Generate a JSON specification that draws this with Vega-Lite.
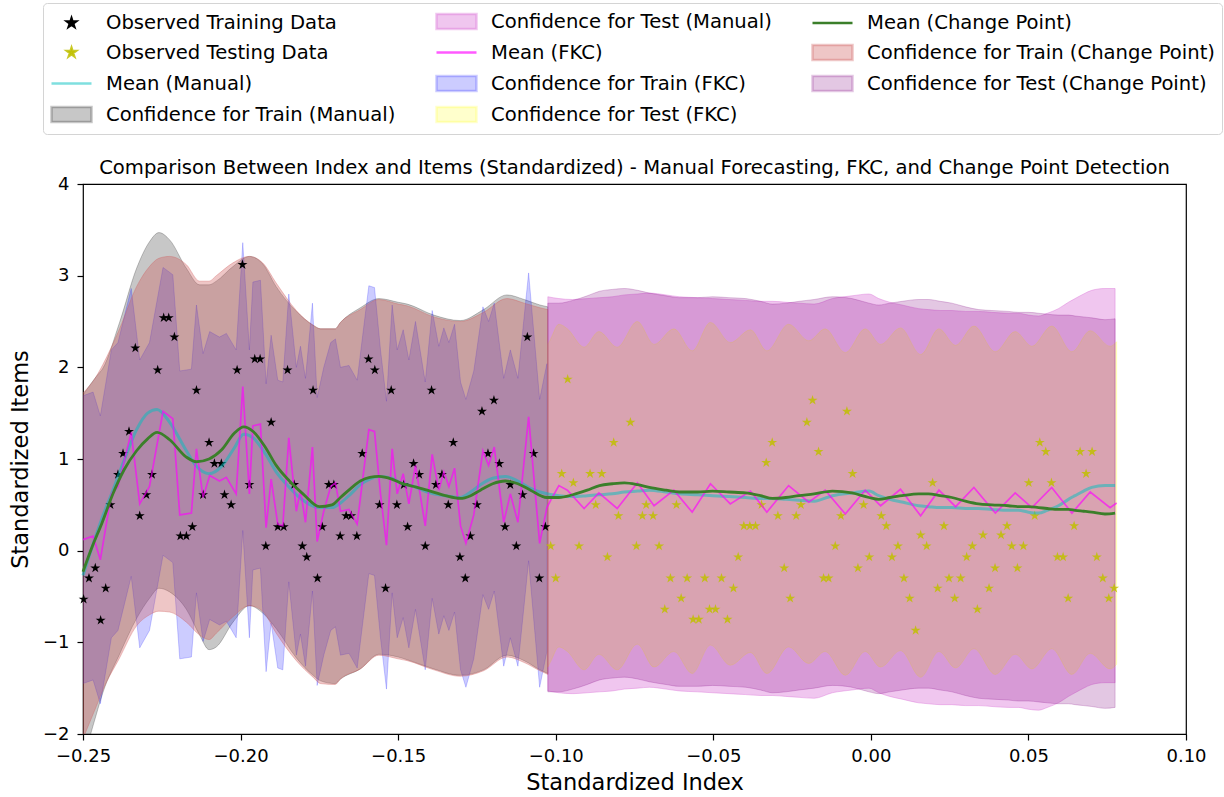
{
"$schema":"https://vega.github.io/schema/vega-lite/v6.json",
"autosize":{"type":"none"},
"padding":{"left":83,"top":184,"right":38,"bottom":63},
"width":1103,"height":550,
"background":"white",
"config":{
 "font":"DejaVu Sans",
 "view":{"stroke":"#000000","strokeWidth":1.2},
 "axis":{"grid":false,"domain":false,"labelFlush":false,"labelOverlap":false,"tickColor":"#000000","tickSize":6,"tickWidth":1.2,"labelColor":"#000000","labelFont":"DejaVu Sans","labelFontSize":18,"titleFont":"DejaVu Sans","titleFontSize":22.5,"titleFontWeight":"normal","titleColor":"#000000"}
},
"title":{"text":"Comparison Between Index and Items (Standardized) - Manual Forecasting, FKC, and Change Point Detection","font":"DejaVu Sans","fontSize":19.6,"fontWeight":"normal","color":"#000000","offset":10,"dy":186,"frame":"group","anchor":"middle"},
"datasets":{
"train":[{"x":-0.2498,"y":-0.53},{"x":-0.2481,"y":-0.30},{"x":-0.2461,"y":-0.19},{"x":-0.2444,"y":-0.76},{"x":-0.2428,"y":-0.41},{"x":-0.2413,"y":0.50},{"x":-0.2389,"y":0.83},{"x":-0.2373,"y":1.06},{"x":-0.2354,"y":1.30},{"x":-0.2334,"y":2.21},{"x":-0.2320,"y":0.38},{"x":-0.2299,"y":0.61},{"x":-0.2281,"y":0.83},{"x":-0.2263,"y":1.97},{"x":-0.2244,"y":2.54},{"x":-0.2228,"y":2.54},{"x":-0.2210,"y":2.33},{"x":-0.2191,"y":0.16},{"x":-0.2172,"y":0.16},{"x":-0.2153,"y":0.26},{"x":-0.2140,"y":1.75},{"x":-0.2119,"y":0.61},{"x":-0.2100,"y":1.18},{"x":-0.2083,"y":0.95},{"x":-0.2061,"y":0.95},{"x":-0.2051,"y":0.61},{"x":-0.2030,"y":0.50},{"x":-0.2011,"y":1.97},{"x":-0.1994,"y":3.12},{"x":-0.1972,"y":0.72},{"x":-0.1955,"y":2.09},{"x":-0.1938,"y":2.09},{"x":-0.1920,"y":0.05},{"x":-0.1903,"y":1.40},{"x":-0.1882,"y":0.26},{"x":-0.1863,"y":0.26},{"x":-0.1851,"y":1.97},{"x":-0.1830,"y":0.72},{"x":-0.1804,"y":0.05},{"x":-0.1790,"y":-0.07},{"x":-0.1770,"y":1.75},{"x":-0.1756,"y":-0.30},{"x":-0.1741,"y":0.26},{"x":-0.1720,"y":0.72},{"x":-0.1704,"y":0.72},{"x":-0.1684,"y":0.16},{"x":-0.1665,"y":0.38},{"x":-0.1649,"y":0.38},{"x":-0.1631,"y":0.16},{"x":-0.1614,"y":1.06},{"x":-0.1594,"y":2.09},{"x":-0.1574,"y":1.97},{"x":-0.1559,"y":0.50},{"x":-0.1540,"y":-0.41},{"x":-0.1522,"y":1.75},{"x":-0.1504,"y":0.50},{"x":-0.1482,"y":0.72},{"x":-0.1470,"y":0.26},{"x":-0.1451,"y":0.95},{"x":-0.1433,"y":0.83},{"x":-0.1414,"y":0.05},{"x":-0.1394,"y":1.75},{"x":-0.1380,"y":0.72},{"x":-0.1361,"y":0.83},{"x":-0.1341,"y":0.50},{"x":-0.1325,"y":1.18},{"x":-0.1304,"y":-0.07},{"x":-0.1287,"y":-0.30},{"x":-0.1271,"y":0.16},{"x":-0.1250,"y":0.50},{"x":-0.1234,"y":1.52},{"x":-0.1215,"y":1.06},{"x":-0.1196,"y":1.64},{"x":-0.1179,"y":0.95},{"x":-0.1161,"y":0.26},{"x":-0.1144,"y":0.72},{"x":-0.1125,"y":0.05},{"x":-0.1105,"y":0.61},{"x":-0.1090,"y":2.33},{"x":-0.1070,"y":1.06},{"x":-0.1052,"y":-0.30},{"x":-0.1033,"y":0.26}],
"test":[{"x":-0.1016,"y":0.05},{"x":-0.1000,"y":-0.30},{"x":-0.0981,"y":0.84},{"x":-0.0962,"y":1.87},{"x":-0.0944,"y":0.74},{"x":-0.0926,"y":0.05},{"x":-0.0891,"y":0.84},{"x":-0.0873,"y":0.50},{"x":-0.0854,"y":0.84},{"x":-0.0836,"y":-0.07},{"x":-0.0816,"y":1.18},{"x":-0.0801,"y":0.38},{"x":-0.0763,"y":1.40},{"x":-0.0744,"y":0.05},{"x":-0.0725,"y":0.38},{"x":-0.0713,"y":0.50},{"x":-0.0691,"y":0.38},{"x":-0.0672,"y":0.05},{"x":-0.0654,"y":-0.64},{"x":-0.0636,"y":-0.30},{"x":-0.0617,"y":0.50},{"x":-0.0602,"y":-0.52},{"x":-0.0583,"y":-0.30},{"x":-0.0564,"y":-0.75},{"x":-0.0546,"y":-0.75},{"x":-0.0527,"y":-0.30},{"x":-0.0512,"y":-0.64},{"x":-0.0493,"y":-0.64},{"x":-0.0474,"y":-0.30},{"x":-0.0455,"y":-0.75},{"x":-0.0436,"y":-0.41},{"x":-0.0421,"y":-0.07},{"x":-0.0403,"y":0.27},{"x":-0.0384,"y":0.27},{"x":-0.0366,"y":0.27},{"x":-0.0347,"y":0.50},{"x":-0.0332,"y":0.96},{"x":-0.0313,"y":1.18},{"x":-0.0295,"y":0.38},{"x":-0.0275,"y":-0.19},{"x":-0.0256,"y":-0.52},{"x":-0.0237,"y":0.38},{"x":-0.0222,"y":0.50},{"x":-0.0203,"y":1.40},{"x":-0.0185,"y":1.64},{"x":-0.0166,"y":1.08},{"x":-0.0150,"y":-0.30},{"x":-0.0134,"y":-0.30},{"x":-0.0113,"y":0.05},{"x":-0.0095,"y":0.38},{"x":-0.0076,"y":1.52},{"x":-0.0058,"y":0.84},{"x":-0.0041,"y":-0.19},{"x":-0.0023,"y":0.50},{"x":-0.0005,"y":-0.07},{"x":0.0033,"y":0.38},{"x":0.0049,"y":0.27},{"x":0.0067,"y":-0.07},{"x":0.0086,"y":0.05},{"x":0.0105,"y":-0.30},{"x":0.0123,"y":-0.52},{"x":0.0142,"y":-0.87},{"x":0.0158,"y":0.17},{"x":0.0177,"y":0.05},{"x":0.0196,"y":0.74},{"x":0.0212,"y":-0.41},{"x":0.0232,"y":0.27},{"x":0.0248,"y":-0.30},{"x":0.0266,"y":-0.52},{"x":0.0285,"y":-0.30},{"x":0.0304,"y":-0.07},{"x":0.0322,"y":0.05},{"x":0.0338,"y":-0.64},{"x":0.0356,"y":0.17},{"x":0.0375,"y":-0.41},{"x":0.0394,"y":-0.19},{"x":0.0413,"y":0.17},{"x":0.0432,"y":0.27},{"x":0.0447,"y":0.05},{"x":0.0465,"y":-0.19},{"x":0.0484,"y":0.05},{"x":0.0501,"y":0.74},{"x":0.0520,"y":0.38},{"x":0.0536,"y":1.18},{"x":0.0555,"y":1.08},{"x":0.0573,"y":0.74},{"x":0.0592,"y":-0.07},{"x":0.0610,"y":-0.07},{"x":0.0626,"y":-0.52},{"x":0.0645,"y":0.27},{"x":0.0664,"y":1.08},{"x":0.0683,"y":0.84},{"x":0.0702,"y":1.08},{"x":0.0717,"y":-0.07},{"x":0.0736,"y":-0.30},{"x":0.0755,"y":-0.52},{"x":0.0772,"y":-0.41}],
"smooth":[{"x":-0.25,"a":-0.27,"c":-0.23},{"x":-0.247,"a":0.05,"c":0.05},{"x":-0.244,"a":0.35,"c":0.30},{"x":-0.2405,"a":0.66,"c":0.62},{"x":-0.237,"a":0.98,"c":0.88},{"x":-0.233,"a":1.32,"c":1.09},{"x":-0.2295,"a":1.50,"c":1.22},{"x":-0.2265,"a":1.54,"c":1.29},{"x":-0.2225,"a":1.40,"c":1.21},{"x":-0.2172,"a":1.09,"c":1.02},{"x":-0.214,"a":0.92,"c":0.97},{"x":-0.21,"a":0.84,"c":1.00},{"x":-0.206,"a":0.92,"c":1.10},{"x":-0.202,"a":1.12,"c":1.28},{"x":-0.199,"a":1.27,"c":1.35},{"x":-0.196,"a":1.23,"c":1.30},{"x":-0.192,"a":1.05,"c":1.12},{"x":-0.1887,"a":0.86,"c":0.93},{"x":-0.1845,"a":0.69,"c":0.76},{"x":-0.1802,"a":0.55,"c":0.62},{"x":-0.175,"a":0.47,"c":0.48},{"x":-0.171,"a":0.47,"c":0.50},{"x":-0.1683,"a":0.52,"c":0.58},{"x":-0.165,"a":0.62,"c":0.68},{"x":-0.162,"a":0.72,"c":0.76},{"x":-0.159,"a":0.78,"c":0.80},{"x":-0.1561,"a":0.81,"c":0.81},{"x":-0.152,"a":0.79,"c":0.78},{"x":-0.1493,"a":0.74,"c":0.74},{"x":-0.145,"a":0.70,"c":0.70},{"x":-0.1408,"a":0.64,"c":0.66},{"x":-0.135,"a":0.60,"c":0.60},{"x":-0.1303,"a":0.58,"c":0.57},{"x":-0.127,"a":0.64,"c":0.60},{"x":-0.1239,"a":0.72,"c":0.66},{"x":-0.12,"a":0.79,"c":0.73},{"x":-0.116,"a":0.81,"c":0.76},{"x":-0.112,"a":0.76,"c":0.73},{"x":-0.108,"a":0.68,"c":0.66},{"x":-0.1028,"a":0.62,"c":0.58},{"x":-0.099,"a":0.60,"c":0.58},{"x":-0.0946,"a":0.59,"c":0.61},{"x":-0.09,"a":0.60,"c":0.66},{"x":-0.0861,"a":0.61,"c":0.71},{"x":-0.082,"a":0.62,"c":0.73},{"x":-0.0782,"a":0.64,"c":0.74},{"x":-0.074,"a":0.65,"c":0.72},{"x":-0.0703,"a":0.66,"c":0.69},{"x":-0.065,"a":0.64,"c":0.66},{"x":-0.0608,"a":0.62,"c":0.64},{"x":-0.055,"a":0.61,"c":0.64},{"x":-0.0502,"a":0.60,"c":0.65},{"x":-0.045,"a":0.59,"c":0.64},{"x":-0.0397,"a":0.58,"c":0.63},{"x":-0.035,"a":0.57,"c":0.60},{"x":-0.0312,"a":0.57,"c":0.57},{"x":-0.027,"a":0.56,"c":0.58},{"x":-0.0228,"a":0.55,"c":0.60},{"x":-0.018,"a":0.54,"c":0.62},{"x":-0.0122,"a":0.60,"c":0.65},{"x":-0.006,"a":0.63,"c":0.63},{"x":-0.0006,"a":0.65,"c":0.58},{"x":0.0025,"a":0.60,"c":0.56},{"x":0.006,"a":0.56,"c":0.58},{"x":0.0099,"a":0.53,"c":0.60},{"x":0.0152,"a":0.49,"c":0.62},{"x":0.0183,"a":0.48,"c":0.62},{"x":0.022,"a":0.47,"c":0.60},{"x":0.0257,"a":0.47,"c":0.58},{"x":0.03,"a":0.46,"c":0.54},{"x":0.0342,"a":0.46,"c":0.51},{"x":0.0384,"a":0.45,"c":0.50},{"x":0.0437,"a":0.44,"c":0.49},{"x":0.0468,"a":0.44,"c":0.48},{"x":0.05,"a":0.42,"c":0.48},{"x":0.0532,"a":0.41,"c":0.47},{"x":0.056,"a":0.44,"c":0.46},{"x":0.0595,"a":0.49,"c":0.45},{"x":0.0627,"a":0.56,"c":0.45},{"x":0.0648,"a":0.60,"c":0.44},{"x":0.0675,"a":0.65,"c":0.43},{"x":0.0701,"a":0.69,"c":0.42},{"x":0.0743,"a":0.71,"c":0.40},{"x":0.0775,"a":0.71,"c":0.41}],
"trb":[{"x":-0.25,"glo":-2.30,"ghi":1.70,"rlo":-2.05,"rhi":1.72},{"x":-0.2458,"glo":-1.79,"ghi":1.90,"rlo":-1.70,"rhi":1.90},{"x":-0.2437,"glo":-1.55,"ghi":1.99,"rlo":-1.52,"rhi":2.03},{"x":-0.2384,"glo":-1.13,"ghi":2.49,"rlo":-1.17,"rhi":2.42},{"x":-0.233,"glo":-0.74,"ghi":3.08,"rlo":-0.82,"rhi":2.88},{"x":-0.2289,"glo":-0.52,"ghi":3.37,"rlo":-0.70,"rhi":3.10},{"x":-0.2259,"glo":-0.41,"ghi":3.47,"rlo":-0.66,"rhi":3.19},{"x":-0.2225,"glo":-0.45,"ghi":3.39,"rlo":-0.67,"rhi":3.21},{"x":-0.2172,"glo":-0.64,"ghi":3.08,"rlo":-0.78,"rhi":3.12},{"x":-0.213,"glo":-0.92,"ghi":2.90,"rlo":-0.92,"rhi":2.94},{"x":-0.21,"glo":-1.08,"ghi":2.90,"rlo":-0.97,"rhi":2.94},{"x":-0.2077,"glo":-1.05,"ghi":2.94,"rlo":-0.90,"rhi":3.00},{"x":-0.2024,"glo":-0.78,"ghi":3.10,"rlo":-0.72,"rhi":3.14},{"x":-0.1972,"glo":-0.60,"ghi":3.21,"rlo":-0.60,"rhi":3.21},{"x":-0.193,"glo":-0.68,"ghi":3.13,"rlo":-0.66,"rhi":3.14},{"x":-0.1887,"glo":-0.85,"ghi":2.88,"rlo":-0.90,"rhi":2.92},{"x":-0.1823,"glo":-1.17,"ghi":2.61,"rlo":-1.20,"rhi":2.62},{"x":-0.177,"glo":-1.36,"ghi":2.46,"rlo":-1.38,"rhi":2.46},{"x":-0.1746,"glo":-1.42,"ghi":2.42,"rlo":-1.45,"rhi":2.42},{"x":-0.17,"glo":-1.45,"ghi":2.42,"rlo":-1.46,"rhi":2.42},{"x":-0.1683,"glo":-1.40,"ghi":2.49,"rlo":-1.40,"rhi":2.49},{"x":-0.162,"glo":-1.29,"ghi":2.65,"rlo":-1.29,"rhi":2.63},{"x":-0.1561,"glo":-1.13,"ghi":2.75,"rlo":-1.14,"rhi":2.74},{"x":-0.15,"glo":-1.16,"ghi":2.71,"rlo":-1.18,"rhi":2.69},{"x":-0.1471,"glo":-1.19,"ghi":2.69,"rlo":-1.20,"rhi":2.67},{"x":-0.1387,"glo":-1.29,"ghi":2.57,"rlo":-1.30,"rhi":2.55},{"x":-0.1303,"glo":-1.36,"ghi":2.51,"rlo":-1.37,"rhi":2.50},{"x":-0.1229,"glo":-1.30,"ghi":2.63,"rlo":-1.31,"rhi":2.60},{"x":-0.1155,"glo":-1.14,"ghi":2.79,"rlo":-1.16,"rhi":2.75},{"x":-0.11,"glo":-1.20,"ghi":2.74,"rlo":-1.22,"rhi":2.70},{"x":-0.105,"glo":-1.30,"ghi":2.68,"rlo":-1.31,"rhi":2.65},{"x":-0.1025,"glo":-1.34,"ghi":2.66,"rlo":-1.35,"rhi":2.63}],
"teb":[{"x":-0.1025,"vlo":-1.53,"vhi":2.77,"plo":-1.54,"phi":2.70},{"x":-0.099,"vlo":-1.55,"vhi":2.75,"plo":-1.54,"phi":2.70},{"x":-0.0946,"vlo":-1.56,"vhi":2.74,"plo":-1.51,"phi":2.73},{"x":-0.09,"vlo":-1.55,"vhi":2.75,"plo":-1.46,"phi":2.78},{"x":-0.0861,"vlo":-1.54,"vhi":2.76,"plo":-1.41,"phi":2.83},{"x":-0.082,"vlo":-1.53,"vhi":2.77,"plo":-1.39,"phi":2.85},{"x":-0.0782,"vlo":-1.51,"vhi":2.79,"plo":-1.38,"phi":2.86},{"x":-0.074,"vlo":-1.50,"vhi":2.80,"plo":-1.40,"phi":2.84},{"x":-0.0703,"vlo":-1.49,"vhi":2.81,"plo":-1.43,"phi":2.81},{"x":-0.065,"vlo":-1.51,"vhi":2.79,"plo":-1.46,"phi":2.78},{"x":-0.0608,"vlo":-1.53,"vhi":2.77,"plo":-1.48,"phi":2.76},{"x":-0.055,"vlo":-1.54,"vhi":2.76,"plo":-1.48,"phi":2.76},{"x":-0.0502,"vlo":-1.55,"vhi":2.75,"plo":-1.47,"phi":2.77},{"x":-0.045,"vlo":-1.56,"vhi":2.74,"plo":-1.48,"phi":2.76},{"x":-0.0397,"vlo":-1.57,"vhi":2.73,"plo":-1.49,"phi":2.75},{"x":-0.035,"vlo":-1.58,"vhi":2.72,"plo":-1.52,"phi":2.72},{"x":-0.0312,"vlo":-1.58,"vhi":2.72,"plo":-1.55,"phi":2.69},{"x":-0.027,"vlo":-1.59,"vhi":2.71,"plo":-1.54,"phi":2.70},{"x":-0.0228,"vlo":-1.60,"vhi":2.70,"plo":-1.52,"phi":2.72},{"x":-0.018,"vlo":-1.61,"vhi":2.69,"plo":-1.50,"phi":2.74},{"x":-0.0122,"vlo":-1.55,"vhi":2.75,"plo":-1.47,"phi":2.77},{"x":-0.006,"vlo":-1.52,"vhi":2.78,"plo":-1.49,"phi":2.75},{"x":-0.0006,"vlo":-1.50,"vhi":2.80,"plo":-1.54,"phi":2.70},{"x":0.0025,"vlo":-1.55,"vhi":2.75,"plo":-1.56,"phi":2.68},{"x":0.006,"vlo":-1.59,"vhi":2.71,"plo":-1.54,"phi":2.70},{"x":0.0099,"vlo":-1.62,"vhi":2.68,"plo":-1.52,"phi":2.72},{"x":0.0152,"vlo":-1.66,"vhi":2.64,"plo":-1.50,"phi":2.74},{"x":0.0183,"vlo":-1.67,"vhi":2.63,"plo":-1.50,"phi":2.74},{"x":0.022,"vlo":-1.68,"vhi":2.62,"plo":-1.52,"phi":2.72},{"x":0.0257,"vlo":-1.68,"vhi":2.62,"plo":-1.54,"phi":2.70},{"x":0.03,"vlo":-1.69,"vhi":2.61,"plo":-1.58,"phi":2.66},{"x":0.0342,"vlo":-1.69,"vhi":2.61,"plo":-1.61,"phi":2.63},{"x":0.0384,"vlo":-1.70,"vhi":2.60,"plo":-1.62,"phi":2.62},{"x":0.0437,"vlo":-1.71,"vhi":2.59,"plo":-1.63,"phi":2.61},{"x":0.0468,"vlo":-1.71,"vhi":2.59,"plo":-1.64,"phi":2.60},{"x":0.05,"vlo":-1.73,"vhi":2.57,"plo":-1.64,"phi":2.60},{"x":0.0532,"vlo":-1.74,"vhi":2.56,"plo":-1.65,"phi":2.59},{"x":0.056,"vlo":-1.71,"vhi":2.59,"plo":-1.66,"phi":2.58},{"x":0.0595,"vlo":-1.66,"vhi":2.64,"plo":-1.67,"phi":2.57},{"x":0.0627,"vlo":-1.59,"vhi":2.71,"plo":-1.67,"phi":2.57},{"x":0.0648,"vlo":-1.55,"vhi":2.75,"plo":-1.68,"phi":2.56},{"x":0.0675,"vlo":-1.50,"vhi":2.80,"plo":-1.69,"phi":2.55},{"x":0.0701,"vlo":-1.46,"vhi":2.84,"plo":-1.70,"phi":2.54},{"x":0.0743,"vlo":-1.44,"vhi":2.86,"plo":-1.72,"phi":2.52},{"x":0.0775,"vlo":-1.44,"vhi":2.86,"plo":-1.71,"phi":2.53}],
"fkc":[{"x":-0.25,"m":0.12,"lo":-1.45,"hi":1.69,"p":"tr"},{"x":-0.2468,"m":0.16,"lo":-1.41,"hi":1.73,"p":"tr"},{"x":-0.2445,"m":-0.10,"lo":-1.67,"hi":1.47,"p":"tr"},{"x":-0.241,"m":0.62,"lo":-0.95,"hi":2.19,"p":"tr"},{"x":-0.2389,"m":0.70,"lo":-0.87,"hi":2.27,"p":"tr"},{"x":-0.2347,"m":1.29,"lo":-0.28,"hi":2.86,"p":"tr"},{"x":-0.232,"m":0.51,"lo":-1.06,"hi":2.08,"p":"tr"},{"x":-0.2289,"m":0.70,"lo":-0.87,"hi":2.27,"p":"tr"},{"x":-0.2246,"m":1.52,"lo":-0.05,"hi":3.09,"p":"tr"},{"x":-0.2215,"m":1.44,"lo":-0.13,"hi":3.01,"p":"tr"},{"x":-0.2193,"m":0.39,"lo":-1.18,"hi":1.96,"p":"tr"},{"x":-0.2156,"m":0.41,"lo":-1.16,"hi":1.98,"p":"tr"},{"x":-0.214,"m":1.11,"lo":-0.46,"hi":2.68,"p":"tr"},{"x":-0.2119,"m":0.58,"lo":-0.99,"hi":2.15,"p":"tr"},{"x":-0.2098,"m":0.82,"lo":-0.75,"hi":2.39,"p":"tr"},{"x":-0.2067,"m":0.76,"lo":-0.81,"hi":2.33,"p":"tr"},{"x":-0.2045,"m":0.80,"lo":-0.77,"hi":2.37,"p":"tr"},{"x":-0.2014,"m":0.62,"lo":-0.95,"hi":2.19,"p":"tr"},{"x":-0.1993,"m":1.79,"lo":0.22,"hi":3.36,"p":"tr"},{"x":-0.1972,"m":0.62,"lo":-0.95,"hi":2.19,"p":"tr"},{"x":-0.1961,"m":1.36,"lo":-0.21,"hi":2.93,"p":"tr"},{"x":-0.1937,"m":1.38,"lo":-0.19,"hi":2.95,"p":"tr"},{"x":-0.1919,"m":0.25,"lo":-1.32,"hi":1.82,"p":"tr"},{"x":-0.1903,"m":0.78,"lo":-0.79,"hi":2.35,"p":"tr"},{"x":-0.1882,"m":0.29,"lo":-1.28,"hi":1.86,"p":"tr"},{"x":-0.1866,"m":0.27,"lo":-1.30,"hi":1.84,"p":"tr"},{"x":-0.1847,"m":1.23,"lo":-0.34,"hi":2.80,"p":"tr"},{"x":-0.1823,"m":0.43,"lo":-1.14,"hi":2.00,"p":"tr"},{"x":-0.181,"m":0.66,"lo":-0.91,"hi":2.23,"p":"tr"},{"x":-0.1794,"m":0.31,"lo":-1.26,"hi":1.88,"p":"tr"},{"x":-0.1772,"m":1.13,"lo":-0.44,"hi":2.70,"p":"tr"},{"x":-0.1757,"m":0.10,"lo":-1.47,"hi":1.67,"p":"tr"},{"x":-0.1736,"m":0.43,"lo":-1.14,"hi":2.00,"p":"tr"},{"x":-0.1714,"m":0.70,"lo":-0.87,"hi":2.27,"p":"tr"},{"x":-0.1699,"m":0.74,"lo":-0.83,"hi":2.31,"p":"tr"},{"x":-0.1683,"m":0.43,"lo":-1.14,"hi":2.00,"p":"tr"},{"x":-0.1656,"m":0.45,"lo":-1.12,"hi":2.02,"p":"tr"},{"x":-0.163,"m":0.29,"lo":-1.28,"hi":1.86,"p":"tr"},{"x":-0.1593,"m":1.32,"lo":-0.25,"hi":2.89,"p":"tr"},{"x":-0.1575,"m":1.30,"lo":-0.27,"hi":2.87,"p":"tr"},{"x":-0.1556,"m":0.62,"lo":-0.95,"hi":2.19,"p":"tr"},{"x":-0.1537,"m":0.06,"lo":-1.51,"hi":1.63,"p":"tr"},{"x":-0.1519,"m":1.11,"lo":-0.46,"hi":2.68,"p":"tr"},{"x":-0.1503,"m":0.62,"lo":-0.95,"hi":2.19,"p":"tr"},{"x":-0.1484,"m":0.84,"lo":-0.73,"hi":2.41,"p":"tr"},{"x":-0.1466,"m":0.51,"lo":-1.06,"hi":2.08,"p":"tr"},{"x":-0.1445,"m":0.93,"lo":-0.64,"hi":2.50,"p":"tr"},{"x":-0.1414,"m":0.27,"lo":-1.30,"hi":1.84,"p":"tr"},{"x":-0.1392,"m":1.05,"lo":-0.52,"hi":2.62,"p":"tr"},{"x":-0.1371,"m":0.66,"lo":-0.91,"hi":2.23,"p":"tr"},{"x":-0.1355,"m":0.86,"lo":-0.71,"hi":2.43,"p":"tr"},{"x":-0.1339,"m":0.70,"lo":-0.87,"hi":2.27,"p":"tr"},{"x":-0.1321,"m":0.90,"lo":-0.67,"hi":2.47,"p":"tr"},{"x":-0.1302,"m":0.27,"lo":-1.30,"hi":1.84,"p":"tr"},{"x":-0.1285,"m":0.08,"lo":-1.49,"hi":1.65,"p":"tr"},{"x":-0.126,"m":0.39,"lo":-1.18,"hi":1.96,"p":"tr"},{"x":-0.1231,"m":1.09,"lo":-0.48,"hi":2.66,"p":"tr"},{"x":-0.1213,"m":0.93,"lo":-0.64,"hi":2.50,"p":"tr"},{"x":-0.1195,"m":1.13,"lo":-0.44,"hi":2.70,"p":"tr"},{"x":-0.1165,"m":0.31,"lo":-1.26,"hi":1.88,"p":"tr"},{"x":-0.1144,"m":0.62,"lo":-0.95,"hi":2.19,"p":"tr"},{"x":-0.112,"m":0.31,"lo":-1.26,"hi":1.88,"p":"tr"},{"x":-0.1086,"m":1.46,"lo":-0.11,"hi":3.03,"p":"tr"},{"x":-0.1051,"m":0.08,"lo":-1.49,"hi":1.65,"p":"tr"},{"x":-0.1028,"m":0.47,"lo":-1.10,"hi":2.04,"p":"tr"},{"x":-0.1025,"m":0.49,"lo":-1.27,"hi":2.25,"p":"te"},{"x":-0.1016,"m":0.55,"lo":-1.21,"hi":2.31,"p":"te"},{"x":-0.099,"m":0.71,"lo":-1.05,"hi":2.47,"p":"te"},{"x":-0.0963,"m":0.66,"lo":-1.10,"hi":2.42,"p":"te"},{"x":-0.091,"m":0.46,"lo":-1.30,"hi":2.22,"p":"te"},{"x":-0.0863,"m":0.63,"lo":-1.13,"hi":2.39,"p":"te"},{"x":-0.0805,"m":0.46,"lo":-1.30,"hi":2.22,"p":"te"},{"x":-0.0741,"m":0.74,"lo":-1.02,"hi":2.50,"p":"te"},{"x":-0.0688,"m":0.49,"lo":-1.27,"hi":2.25,"p":"te"},{"x":-0.0625,"m":0.66,"lo":-1.10,"hi":2.42,"p":"te"},{"x":-0.0567,"m":0.42,"lo":-1.34,"hi":2.18,"p":"te"},{"x":-0.0509,"m":0.73,"lo":-1.03,"hi":2.49,"p":"te"},{"x":-0.0446,"m":0.51,"lo":-1.25,"hi":2.27,"p":"te"},{"x":-0.0382,"m":0.65,"lo":-1.11,"hi":2.41,"p":"te"},{"x":-0.033,"m":0.42,"lo":-1.34,"hi":2.18,"p":"te"},{"x":-0.0261,"m":0.71,"lo":-1.05,"hi":2.47,"p":"te"},{"x":-0.0197,"m":0.53,"lo":-1.23,"hi":2.29,"p":"te"},{"x":-0.0145,"m":0.66,"lo":-1.10,"hi":2.42,"p":"te"},{"x":-0.0081,"m":0.40,"lo":-1.36,"hi":2.16,"p":"te"},{"x":-0.0018,"m":0.66,"lo":-1.10,"hi":2.42,"p":"te"},{"x":0.0031,"m":0.49,"lo":-1.27,"hi":2.25,"p":"te"},{"x":0.0094,"m":0.67,"lo":-1.09,"hi":2.43,"p":"te"},{"x":0.0158,"m":0.38,"lo":-1.38,"hi":2.14,"p":"te"},{"x":0.0216,"m":0.66,"lo":-1.10,"hi":2.42,"p":"te"},{"x":0.0269,"m":0.48,"lo":-1.28,"hi":2.24,"p":"te"},{"x":0.0327,"m":0.69,"lo":-1.07,"hi":2.45,"p":"te"},{"x":0.0395,"m":0.41,"lo":-1.35,"hi":2.17,"p":"te"},{"x":0.0458,"m":0.63,"lo":-1.13,"hi":2.39,"p":"te"},{"x":0.0511,"m":0.47,"lo":-1.29,"hi":2.23,"p":"te"},{"x":0.0574,"m":0.69,"lo":-1.07,"hi":2.45,"p":"te"},{"x":0.0638,"m":0.41,"lo":-1.35,"hi":2.17,"p":"te"},{"x":0.0696,"m":0.64,"lo":-1.12,"hi":2.40,"p":"te"},{"x":0.0759,"m":0.47,"lo":-1.29,"hi":2.23,"p":"te"},{"x":0.078,"m":0.52,"lo":-1.24,"hi":2.28,"p":"te"}]
},
"layer":[
{"data":{"name":"trb"},
 "mark":{"type":"area","clip":true,"interpolate":"monotone","opacity":1,"stroke":"rgba(0,0,0,0.22)","strokeWidth":1},
 "encoding":{
  "x":{"field":"x","type":"quantitative","title":"Standardized Index","scale":{"domain":[-0.25,0.1],"nice":false,"zero":false},"axis":{"values":[-0.25,-0.2,-0.15,-0.1,-0.05,0,0.05,0.1],"format":".2f","labelPadding":7,"titlePadding":6,"labelFlush":false}},
  "y":{"field":"glo","type":"quantitative","title":"Standardized Items","scale":{"domain":[-2,4],"nice":false,"zero":false},"axis":{"values":[-2,-1,0,1,2,3,4],"format":"d","labelPadding":8,"titlePadding":10,"labelFlush":false}},
  "y2":{"field":"ghi"},
  "color":{"datum":"Confidence for Train (Manual)","type":"nominal",
   "scale":{"domain":["Observed Training Data","Observed Testing Data","Mean (Manual)","Confidence for Train (Manual)","Confidence for Test (Manual)","Mean (FKC)","Confidence for Train (FKC)","Confidence for Test (FKC)","Mean (Change Point)","Confidence for Train (Change Point)","Confidence for Test (Change Point)"],
    "range":["#000000","rgba(191,191,0,0.85)","rgba(0,191,191,0.5)","rgba(0,0,0,0.22)","rgba(218,112,214,0.4)","rgba(255,0,255,0.65)","rgba(0,0,255,0.2)","rgba(255,255,0,0.2)","#3b7f2a","rgba(205,92,92,0.35)","rgba(128,0,128,0.22)"]},
   "legend":{"orient":"none","legendX":-40,"legendY":-181,"title":null,"columns":3,"direction":"vertical","columnPadding":35,"rowPadding":6,"symbolSize":400,"labelFont":"DejaVu Sans","labelFontSize":19.6,"labelColor":"#000000","labelLimit":600,"labelOffset":33,"padding":7,"strokeColor":"#d4d4d4","fillColor":"#ffffff","cornerRadius":4,"symbolStrokeWidth":2.5,
    "encoding":{"symbols":{
      "shape":{"value":{"expr":"(datum.value === 'Observed Training Data' || datum.value === 'Observed Testing Data') ? 'M1,-0.45L1.101,-0.139L1.428,-0.139L1.164,0.053L1.265,0.364L1,0.172L0.735,0.364L0.836,0.053L0.572,-0.139L0.899,-0.139Z' : (indexof(datum.value, 'Mean') === 0 ? 'M-1,0L3,0' : 'M-1,-0.75L3,-0.75L3,0.75L-1,0.75Z')"}},
      "size":{"value":400},
      "fill":{"value":{"expr":"indexof(datum.value, 'Mean') === 0 ? 'transparent' : scale('color', datum.value)"}},
      "stroke":{"value":{"expr":"indexof(datum.value, 'Mean') === 0 ? scale('color', datum.value) : 'transparent'"}},
      "strokeWidth":{"value":2.5},
      "opacity":{"value":1},
      "fillOpacity":{"value":1},
      "strokeOpacity":{"value":1}
    }}}
  }
 }},
{"data":{"name":"teb"},
 "mark":{"type":"area","clip":true,"interpolate":"monotone","opacity":1,"stroke":"rgba(218,112,214,0.4)","strokeWidth":1},
 "encoding":{"x":{"field":"x","type":"quantitative","title":"Standardized Index"},"y":{"field":"vlo","type":"quantitative","title":"Standardized Items"},"y2":{"field":"vhi"},"color":{"datum":"Confidence for Test (Manual)","type":"nominal"}}},
{"data":{"name":"fkc"},"transform":[{"filter":"datum.p === 'tr'"}],
 "mark":{"type":"area","clip":true,"opacity":1,"stroke":"rgba(0,0,255,0.2)","strokeWidth":1},
 "encoding":{"x":{"field":"x","type":"quantitative","title":"Standardized Index"},"y":{"field":"lo","type":"quantitative","title":"Standardized Items"},"y2":{"field":"hi"},"color":{"datum":"Confidence for Train (FKC)","type":"nominal"}}},
{"data":{"name":"fkc"},"transform":[{"filter":"datum.p === 'te'"}],
 "mark":{"type":"area","clip":true,"interpolate":"monotone","opacity":1,"stroke":"rgba(255,255,0,0.2)","strokeWidth":1},
 "encoding":{"x":{"field":"x","type":"quantitative","title":"Standardized Index"},"y":{"field":"lo","type":"quantitative","title":"Standardized Items"},"y2":{"field":"hi"},"color":{"datum":"Confidence for Test (FKC)","type":"nominal"}}},
{"data":{"name":"trb"},
 "mark":{"type":"area","clip":true,"interpolate":"monotone","opacity":1,"stroke":"rgba(205,92,92,0.35)","strokeWidth":1},
 "encoding":{"x":{"field":"x","type":"quantitative","title":"Standardized Index"},"y":{"field":"rlo","type":"quantitative","title":"Standardized Items"},"y2":{"field":"rhi"},"color":{"datum":"Confidence for Train (Change Point)","type":"nominal"}}},
{"data":{"name":"teb"},
 "mark":{"type":"area","clip":true,"interpolate":"monotone","opacity":1,"stroke":"rgba(128,0,128,0.22)","strokeWidth":1},
 "encoding":{"x":{"field":"x","type":"quantitative","title":"Standardized Index"},"y":{"field":"plo","type":"quantitative","title":"Standardized Items"},"y2":{"field":"phi"},"color":{"datum":"Confidence for Test (Change Point)","type":"nominal"}}},
{"data":{"name":"train"},
 "mark":{"type":"point","filled":true,"opacity":1,"strokeWidth":0,"size":110,"shape":"M0,-1L0.2245,-0.309L0.951,-0.309L0.3633,0.118L0.588,0.809L0,0.382L-0.588,0.809L-0.3633,0.118L-0.951,-0.309L-0.2245,-0.309Z"},
 "encoding":{"x":{"field":"x","type":"quantitative","title":"Standardized Index"},"y":{"field":"y","type":"quantitative","title":"Standardized Items"},"color":{"datum":"Observed Training Data","type":"nominal"}}},
{"data":{"name":"test"},
 "mark":{"type":"point","filled":true,"opacity":1,"strokeWidth":0,"size":110,"shape":"M0,-1L0.2245,-0.309L0.951,-0.309L0.3633,0.118L0.588,0.809L0,0.382L-0.588,0.809L-0.3633,0.118L-0.951,-0.309L-0.2245,-0.309Z"},
 "encoding":{"x":{"field":"x","type":"quantitative","title":"Standardized Index"},"y":{"field":"y","type":"quantitative","title":"Standardized Items"},"color":{"datum":"Observed Testing Data","type":"nominal"}}},
{"data":{"name":"smooth"},
 "mark":{"type":"line","interpolate":"monotone","strokeWidth":3,"opacity":1},
 "encoding":{"x":{"field":"x","type":"quantitative","title":"Standardized Index"},"y":{"field":"a","type":"quantitative","title":"Standardized Items"},"color":{"datum":"Mean (Manual)","type":"nominal"}}},
{"data":{"name":"fkc"},
 "mark":{"type":"line","strokeWidth":1.7,"opacity":1},
 "encoding":{"x":{"field":"x","type":"quantitative","title":"Standardized Index"},"y":{"field":"m","type":"quantitative","title":"Standardized Items"},"color":{"datum":"Mean (FKC)","type":"nominal"}}},
{"data":{"name":"smooth"},
 "mark":{"type":"line","interpolate":"monotone","strokeWidth":2.8,"opacity":1},
 "encoding":{"x":{"field":"x","type":"quantitative","title":"Standardized Index"},"y":{"field":"c","type":"quantitative","title":"Standardized Items"},"color":{"datum":"Mean (Change Point)","type":"nominal"}}}
]
}
